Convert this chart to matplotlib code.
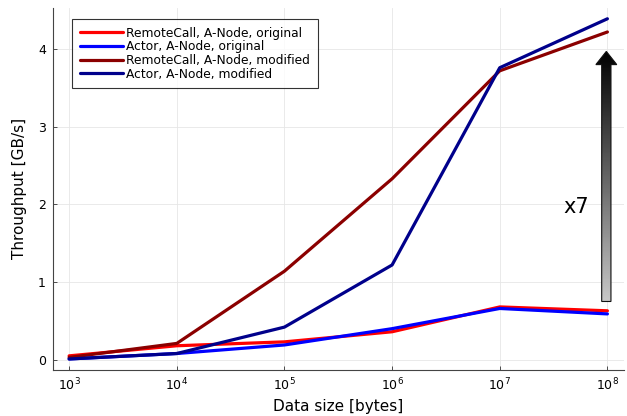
import numpy as np
import matplotlib
matplotlib.use("Agg")
import matplotlib.pyplot as plt
from matplotlib.patches import Polygon
from matplotlib.ticker import FixedLocator, NullLocator

sizes = [1e3, 1e4, 1e5, 1e6, 1e7, 1e8]
remote_orig = [0.05, 0.18, 0.23, 0.36, 0.68, 0.63]
actor_orig = [0.01, 0.08, 0.19, 0.40, 0.66, 0.59]
remote_mod = [0.03, 0.21, 1.14, 2.33, 3.72, 4.22]
actor_mod = [0.01, 0.08, 0.42, 1.22, 3.76, 4.39]
labels = ["RemoteCall, A-Node, original", "Actor, A-Node, original",
          "RemoteCall, A-Node, modified", "Actor, A-Node, modified"]
colors = ["#ff0000", "#0000ff", "#8b0000", "#00008b"]
xticks = [1e3, 1e4, 1e5, 1e6, 1e7, 1e8]
yticks = [0, 1, 2, 3, 4]

fig = plt.figure(figsize=(6.27, 4.16), dpi=100)
ax = fig.add_axes([0.0845, 0.111, 0.91, 0.87])

for ys, lab, c in zip([remote_orig, actor_orig, remote_mod, actor_mod], labels, colors):
    ax.plot(sizes, ys, color=c, lw=2.3, label=lab, solid_capstyle="round")

ax.set_xscale("log")
ax.xaxis.set_major_locator(FixedLocator(xticks))
ax.xaxis.set_minor_locator(NullLocator())
ax.set_xticks(xticks)
ax.set_xticklabels([r"$10^{%d}$" % int(np.log10(t)) for t in xticks])
ax.set_yticks(yticks)
ax.tick_params(direction="in", length=3, width=0.6, labelsize=9, pad=5,
               colors="#333333", labelcolor="black")
ax.grid(True, color="#e6e6e6", lw=0.6)
ax.set_axisbelow(True)
for s in ["top", "right"]:
    ax.spines[s].set_visible(False)
for s in ["left", "bottom"]:
    ax.spines[s].set_color("#444444")
    ax.spines[s].set_linewidth(0.8)

ax.set_xlabel("Data size [bytes]", fontsize=11, labelpad=4)
ax.set_ylabel("Throughput [GB/s]", fontsize=11, labelpad=8)

leg = ax.legend(loc="upper left", bbox_to_anchor=(0.033, 0.970), fontsize=8.8, frameon=True,
                fancybox=False, edgecolor="black", handlelength=3.5, borderpad=0.65,
                labelspacing=0.05, handletextpad=0.3, borderaxespad=0)
leg.get_frame().set_linewidth(0.8)

ax.text(10**7.71, 1.97, "x7", fontsize=15, ha="center", va="center")

# gradient arrow
x0 = 7.99
sw = 0.043
hw = 0.097
hl = 0.17
ybot, ytop = 0.75, 3.97
pts_log = [(x0 - sw, ybot), (x0 + sw, ybot), (x0 + sw, ytop - hl), (x0 + hw, ytop - hl),
           (x0, ytop), (x0 - hw, ytop - hl), (x0 - sw, ytop - hl)]
pts = [(10**px, py) for px, py in pts_log]
poly = Polygon(pts, closed=True, facecolor="none", edgecolor="#111111", lw=0.8, zorder=4)
ax.add_patch(poly)
grad = np.linspace(0.78, 0.0, 256).reshape(-1, 1)
im = ax.imshow(grad, cmap="gray", vmin=0, vmax=1, aspect="auto",
               extent=[10**(x0 - hw), 10**(x0 + hw), ybot, ytop], origin="lower",
               zorder=3, interpolation="bilinear")
im.set_clip_path(poly)
ax.set_xlim(10**2.85, 10**8.15)
ax.set_ylim(-0.13, 4.53)

fig.savefig("out.png", dpi=100)
